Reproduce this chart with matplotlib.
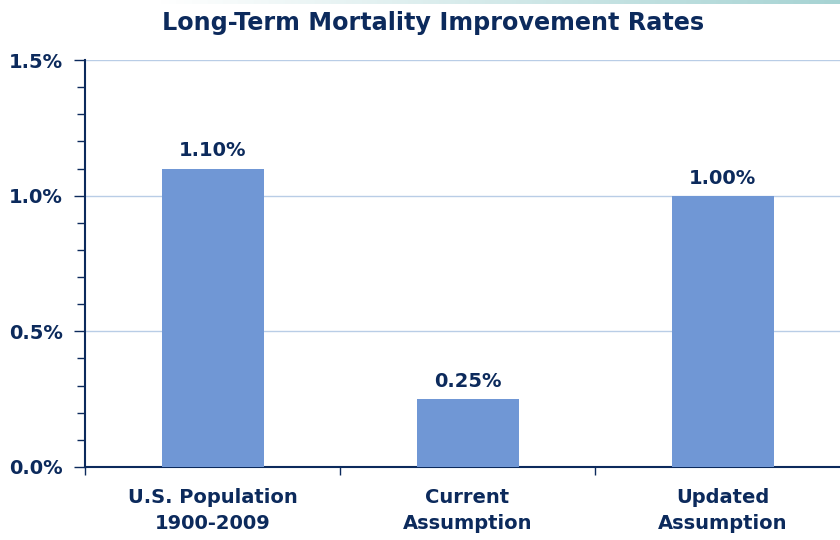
import numpy as np
import matplotlib.pyplot as plt
from matplotlib.ticker import MultipleLocator, FuncFormatter
from matplotlib.colors import LinearSegmentedColormap

categories = ['U.S. Population\n1900-2009', 'Current\nAssumption', 'Updated\nAssumption']
rates = [1.10, 0.25, 1.00]
value_labels = ['1.10%', '0.25%', '1.00%']

navy = '#0c2a5c'
bar_color = '#7097d5'
grid_color = '#b9cde6'

plt.rcParams['font.family'] = ['DejaVu Sans']
plt.rcParams['font.weight'] = 'bold'

fig = plt.figure(figsize=(8.4, 5.4), dpi=100)

# thin gradient band at the top
band = fig.add_axes([0.19, 0.993, 0.81, 0.007])
grad = np.linspace(0, 1, 256).reshape(1, -1)
cmap = LinearSegmentedColormap.from_list('band', ['#ffffff', '#a6d3d3'])
band.imshow(grad, aspect='auto', cmap=cmap)
band.axis('off')

ax = fig.add_axes([85 / 840, 73 / 540, 765 / 840, 407 / 540])
x = np.arange(len(categories))
ax.bar(x, rates, width=0.4, color=bar_color, zorder=3)

for xi, r, lab in zip(x, rates, value_labels):
    ax.text(xi, r + 0.03, lab, ha='center', va='bottom', fontsize=14,
            fontweight='bold', color=navy)

ax.set_xlim(-0.5, 2.5)
ax.set_ylim(0, 1.5)
ax.yaxis.set_major_locator(MultipleLocator(0.5))
ax.yaxis.set_minor_locator(MultipleLocator(0.1))
ax.yaxis.set_major_formatter(FuncFormatter(lambda v, p: '%.1f%%' % v))
ax.grid(axis='y', which='major', color=grid_color, linewidth=1, zorder=0)

ax.set_xticks([-0.5, 0.5, 1.5, 2.5])
ax.set_xticklabels([])
ax.set_xticks(x, minor=True)
ax.set_xticklabels(categories, minor=True, fontsize=14, fontweight='bold',
                   color=navy, linespacing=1.5)
ax.tick_params(axis='x', which='major', direction='out', length=6, color=navy, width=1)
ax.tick_params(axis='x', which='minor', length=0, pad=15)
ax.tick_params(axis='y', which='major', direction='out', length=8, color=navy,
               width=1, labelsize=14, labelcolor=navy, pad=8)
ax.tick_params(axis='y', which='minor', direction='out', length=6, color=navy, width=1)

for side in ['top', 'right']:
    ax.spines[side].set_visible(False)
for side in ['left', 'bottom']:
    ax.spines[side].set_color(navy)
    ax.spines[side].set_linewidth(1.5)

fig.text(0.515, 0.958, 'Long-Term Mortality Improvement Rates', ha='center', va='center',
         fontsize=17.2, fontweight='bold', color=navy)

fig.savefig('out.png', dpi=100)
